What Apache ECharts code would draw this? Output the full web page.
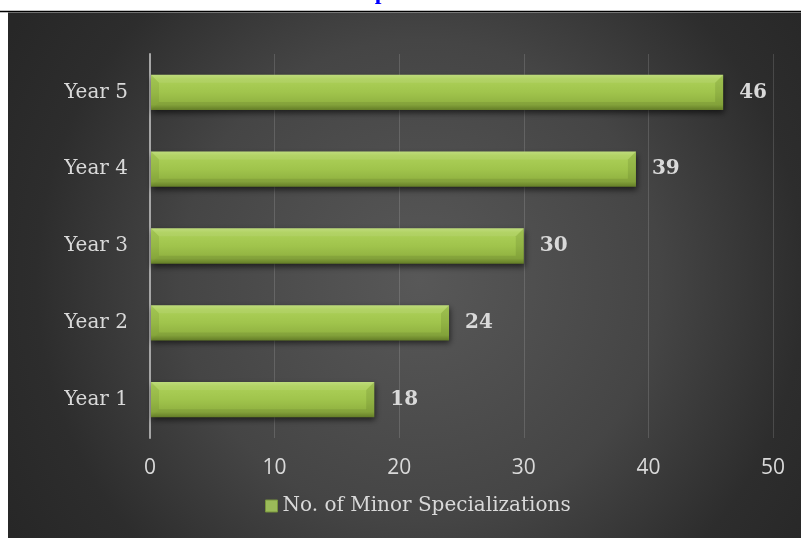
<!DOCTYPE html>
<html>
<head>
<meta charset="utf-8">
<script src="https://cdn.jsdelivr.net/npm/echarts@6/dist/echarts.min.js"></script>
<style>
  html, body { margin: 0; padding: 0; background: #ffffff; }
  #chart { width: 801px; height: 538px; }
</style>
</head>
<body>
<div id="chart"></div>
<script>
// Minor specializations offered per study year
const categories = ['Year 1', 'Year 2', 'Year 3', 'Year 4', 'Year 5'];
const minorSpecializations = [18, 24, 30, 39, 46];
const seriesName = 'No. of Minor Specializations';
const headingText = 'Minor Specializations';
const xMin = 0;
const xMax = 50;
const xStep = 10;

const chart = echarts.init(document.getElementById('chart'), null, { renderer: 'canvas' });

const textColor = '#d9d9d9';

// Bevelled bar: main body with a vertical gradient, chamfered ends and a value label
function renderBar(params, api) {
  const v = api.value(0);
  const c = api.value(1);
  const p0 = api.coord([0, c]);
  const p1 = api.coord([v, c]);
  const band = api.size([0, 1])[1];
  const h = band * 0.46;
  const x0 = p0[0] + 1;
  const x1 = p1[0];
  const yt = p0[1] - h / 2;
  const yb = yt + h;
  const b = 8;
  const body = new echarts.graphic.LinearGradient(0, 0, 0, 1, [
    { offset: 0, color: '#b9d872' },
    { offset: 0.12, color: '#acd058' },
    { offset: 0.5, color: '#a0c44c' },
    { offset: 0.85, color: '#8fb040' },
    { offset: 1, color: '#6c872b' }
  ]);
  return {
    type: 'group',
    children: [
      {
        type: 'rect',
        shape: { x: x0, y: yt, width: x1 - x0, height: h },
        style: {
          fill: body,
          shadowBlur: 6,
          shadowOffsetX: 1,
          shadowOffsetY: 3,
          shadowColor: 'rgba(0,0,0,0.6)'
        }
      },
      {
        type: 'polygon',
        shape: { points: [[x0, yt], [x1, yt], [x1 - b, yt + b], [x0 + b, yt + b]] },
        style: { fill: 'rgba(255,255,255,0.08)' }
      },
      {
        type: 'polygon',
        shape: { points: [[x0, yb], [x1, yb], [x1 - b, yb - b], [x0 + b, yb - b]] },
        style: { fill: 'rgba(0,0,0,0.08)' }
      },
      {
        type: 'polygon',
        shape: { points: [[x0, yt], [x0 + b, yt + b], [x0 + b, yb - b], [x0, yb]] },
        style: { fill: 'rgba(60,80,20,0.10)' }
      },
      {
        type: 'polygon',
        shape: { points: [[x1, yt], [x1 - b, yt + b], [x1 - b, yb - b], [x1, yb]] },
        style: { fill: 'rgba(60,80,20,0.14)' }
      },
      {
        type: 'text',
        style: {
          text: String(v),
          x: x1 + 16,
          y: (yt + yb) / 2,
          align: 'left',
          verticalAlign: 'middle',
          fontFamily: '"DejaVu Serif", serif',
          fontWeight: 'bold',
          fontSize: 20,
          fill: textColor
        }
      }
    ]
  };
}

const option = {
  backgroundColor: '#ffffff',
  animation: false,
  graphic: [
    {
      type: 'rect',
      z: -100,
      silent: true,
      shape: { x: 8, y: 12.5, width: 793, height: 526 },
      style: {
        fill: {
          type: 'radial',
          x: 420, y: 280, r: 480,
          global: true,
          colorStops: [
            { offset: 0, color: '#585858' },
            { offset: 0.5, color: '#454545' },
            { offset: 0.8, color: '#2d2d2d' },
            { offset: 1, color: '#272727' }
          ]
        }
      }
    },
    {
      type: 'line',
      z: -90,
      silent: true,
      shape: { x1: 0, y1: 11.5, x2: 801, y2: 11.5 },
      style: { stroke: '#000000', lineWidth: 1.6 }
    },
    {
      type: 'text',
      z: -90,
      silent: true,
      x: 290,
      y: -7.5,
      style: {
        text: headingText,
        fontFamily: '"Liberation Serif", serif',
        fontWeight: 'bold',
        fontSize: 24,
        fill: '#0000ff',
        verticalAlign: 'middle'
      }
    }
  ],
  grid: { left: 150, right: 28, top: 54, bottom: 100, containLabel: false },
  legend: {
    left: 260,
    top: 491,
    itemWidth: 12,
    itemHeight: 12,
    itemGap: 10,
    data: [{ name: seriesName, icon: 'rect', itemStyle: { color: '#9bbb59', borderColor: '#77933c', borderWidth: 1 } }],
    textStyle: { color: textColor, fontFamily: '"DejaVu Serif", serif', fontSize: 20, padding: [0, 0, 0, 0] }
  },
  xAxis: {
    type: 'value',
    min: xMin,
    max: xMax,
    interval: xStep,
    axisLine: { show: false },
    axisTick: { show: false },
    splitLine: { show: true, lineStyle: { color: 'rgba(255,255,255,0.14)', width: 1 } },
    axisLabel: { color: textColor, fontFamily: '"Open Sans", sans-serif', fontSize: 21, margin: 20 }
  },
  yAxis: {
    type: 'category',
    data: categories,
    axisLine: { show: true, lineStyle: { color: '#a6a6a6', width: 2 } },
    axisTick: { show: false },
    splitLine: { show: false },
    axisLabel: { color: textColor, fontFamily: '"DejaVu Serif", serif', fontSize: 20, margin: 22 }
  },
  series: [
    {
      name: seriesName,
      type: 'custom',
      renderItem: renderBar,
      itemStyle: { color: '#9bbb59' },
      encode: { x: 0, y: 1 },
      data: minorSpecializations.map((v, i) => [v, i]),
      z: 5
    }
  ]
};

chart.setOption(option);
</script>
</body>
</html>
